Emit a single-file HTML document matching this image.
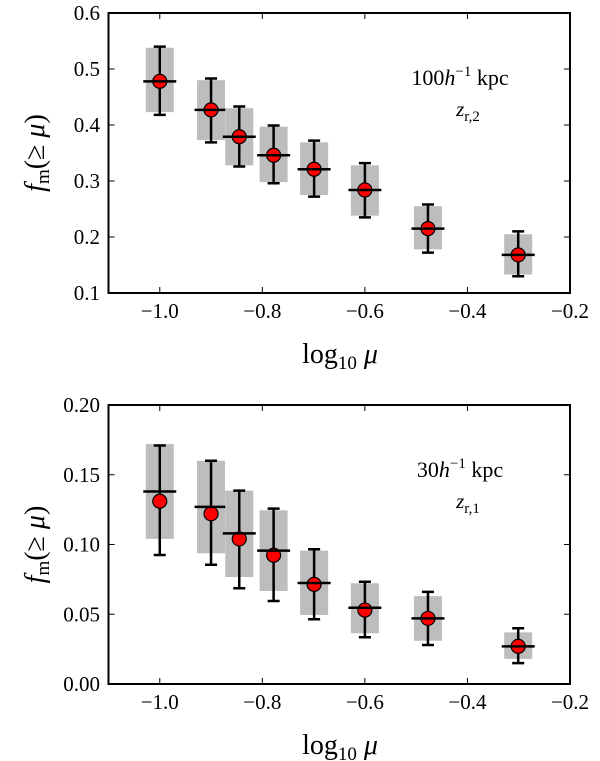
<!DOCTYPE html>
<html><head><meta charset="utf-8"><style>
body{margin:0;background:#fff;}
svg{display:block;font-family:"Liberation Serif",serif;}
</style></head><body>
<svg id="chart" width="600" height="761" viewBox="0 0 600 761" xmlns="http://www.w3.org/2000/svg"></svg>
<script>
// shared categories (log10 mu)
const xCats = [-1.0, -0.9, -0.845, -0.778, -0.699, -0.6, -0.477, -0.301];
const xTicks = [-1.0, -0.8, -0.6, -0.4, -0.2];
const xTickLabels = ["\u22121.0", "\u22120.8", "\u22120.6", "\u22120.4", "\u22120.2"];

// top panel (100 h^-1 kpc)
const topPoint = [0.478, 0.427, 0.379, 0.346, 0.321, 0.284, 0.215, 0.168];
const topMedian = [0.478, 0.427, 0.379, 0.346, 0.321, 0.284, 0.215, 0.168];
const topErrLo = [0.418, 0.369, 0.326, 0.296, 0.272, 0.235, 0.172, 0.130];
const topErrHi = [0.540, 0.483, 0.433, 0.399, 0.372, 0.332, 0.258, 0.210];
const topBoxLo = [0.423, 0.373, 0.328, 0.298, 0.275, 0.238, 0.178, 0.133];
const topBoxHi = [0.538, 0.480, 0.430, 0.397, 0.369, 0.328, 0.255, 0.205];
const topYTicks = [0.1, 0.2, 0.3, 0.4, 0.5, 0.6];
const topYLabels = ["0.1", "0.2", "0.3", "0.4", "0.5", "0.6"];

// bottom panel (30 h^-1 kpc)
const botPoint = [0.131, 0.122, 0.104, 0.0923, 0.0714, 0.053, 0.047, 0.027];
const botMedian = [0.138, 0.127, 0.108, 0.0956, 0.0724, 0.0547, 0.047, 0.027];
const botErrLo = [0.0925, 0.0855, 0.0686, 0.0595, 0.0464, 0.0335, 0.028, 0.015];
const botErrHi = [0.171, 0.160, 0.1386, 0.1257, 0.0966, 0.0733, 0.066, 0.040];
const botBoxLo = [0.104, 0.0937, 0.0767, 0.0667, 0.0495, 0.0364, 0.031, 0.018];
const botBoxHi = [0.172, 0.160, 0.1386, 0.1245, 0.0956, 0.0722, 0.063, 0.037];
const botYTicks = [0.0, 0.05, 0.10, 0.15, 0.20];
const botYLabels = ["0.00", "0.05", "0.10", "0.15", "0.20"];

const NS = "http://www.w3.org/2000/svg";
const svg = document.getElementById("chart");
function mk(tag, attrs, parent){
  const e = document.createElementNS(NS, tag);
  for (const k in attrs) e.setAttribute(k, attrs[k]);
  (parent||svg).appendChild(e);
  return e;
}
const X0 = 108.5, X1 = 570;
function xScale(v){ return X0 + (v - (-1.1)) / 0.9 * (X1 - X0); }

function panel(name, top, bot, yMin, yMax, yTicks, yLabels, pts, med, eLo, eHi, bLo, bHi, annot1, annot2sub){
  const g = mk("g", {});
  
  
  const ys = v => bot - (v - yMin) / (yMax - yMin) * (bot - top);
  for (let i = 0; i < xCats.length; i++){
    const cx = xScale(xCats[i]);
    const box = mk("rect", {x: cx-14, y: ys(bHi[i]), width: 28, height: ys(bLo[i]) - ys(bHi[i]), fill: "#bdbdbd"}, g);
    
    
    const eb = mk("path", {d: `M${cx},${ys(eLo[i])}V${ys(eHi[i])}M${cx-6},${ys(eLo[i])}H${cx+6}M${cx-6},${ys(eHi[i])}H${cx+6}`, stroke: "#000", "stroke-width": 2.5, fill: "none"}, g);
    
    
    const c = mk("circle", {cx: cx, cy: ys(pts[i]), r: 7, fill: "#ff0000", stroke: "#000", "stroke-width": 1.2}, g);
    
    
    const m = mk("line", {x1: cx-16.5, x2: cx+16.5, y1: ys(med[i]), y2: ys(med[i]), stroke: "#000", "stroke-width": 2.5}, g);
    
    
  }
  for (let i = 0; i < xTicks.length; i++){
    const x = xScale(xTicks[i]);
    mk("line", {x1: x, x2: x, y1: bot, y2: bot-6, stroke: "#000", "stroke-width": 1}, g);
    mk("line", {x1: x, x2: x, y1: top, y2: top+6, stroke: "#000", "stroke-width": 1}, g);
    const t = mk("text", {x: x, y: bot+25, "text-anchor": "middle", "font-size": 21}, g);
    t.textContent = xTickLabels[i];
    
    
  }
  for (let i = 0; i < yTicks.length; i++){
    const y = ys(yTicks[i]);
    mk("line", {x1: X0, x2: X0+6, y1: y, y2: y, stroke: "#000", "stroke-width": 1}, g);
    mk("line", {x1: X1, x2: X1-6, y1: y, y2: y, stroke: "#000", "stroke-width": 1}, g);
    const t = mk("text", {x: 100, y: y+7, "text-anchor": "end", "font-size": 21}, g);
    t.textContent = yLabels[i];
    
    
  }
  const fr = mk("rect", {x: X0, y: top, width: X1-X0, height: bot-top, fill: "none", stroke: "#000", "stroke-width": 2}, g);
  
  
  const xl = mk("text", {x: 340, y: bot+70, "text-anchor": "middle", "font-size": 28}, g);
  xl.innerHTML = 'log<tspan font-size="19" dy="6">10</tspan><tspan dy="-6" font-style="italic"> μ</tspan>';
  
  
  const cy = (top+bot)/2;
  const yl = mk("text", {x: 0, y: 0, "text-anchor": "middle", "font-size": 28, transform: `translate(44,${cy}) rotate(-90)`}, g);
  yl.innerHTML = '<tspan font-style="italic">f</tspan><tspan font-size="19" dy="5">m</tspan><tspan dy="-5">(≥ </tspan><tspan font-style="italic">μ</tspan>)';
  
  
  const a1 = mk("text", {x: 460, y: top+72, "text-anchor": "middle", "font-size": 22}, g);
  a1.innerHTML = annot1 + '<tspan font-style="italic">h</tspan><tspan font-size="15" dy="-9">−1</tspan><tspan dy="9"> kpc</tspan>';
  
  
  const a2 = mk("text", {x: 468, y: top+103, "text-anchor": "middle", "font-size": 21}, g);
  a2.innerHTML = '<tspan font-style="italic">z</tspan><tspan font-size="15" dy="5">r,' + annot2sub + '</tspan>';
  
  
}
panel("top-panel", 13, 293, 0.1, 0.6, topYTicks, topYLabels, topPoint, topMedian, topErrLo, topErrHi, topBoxLo, topBoxHi, "100", "2");
panel("bottom-panel", 405, 684, 0.0, 0.2, botYTicks, botYLabels, botPoint, botMedian, botErrLo, botErrHi, botBoxLo, botBoxHi, "30", "1");
</script>
</body></html>
